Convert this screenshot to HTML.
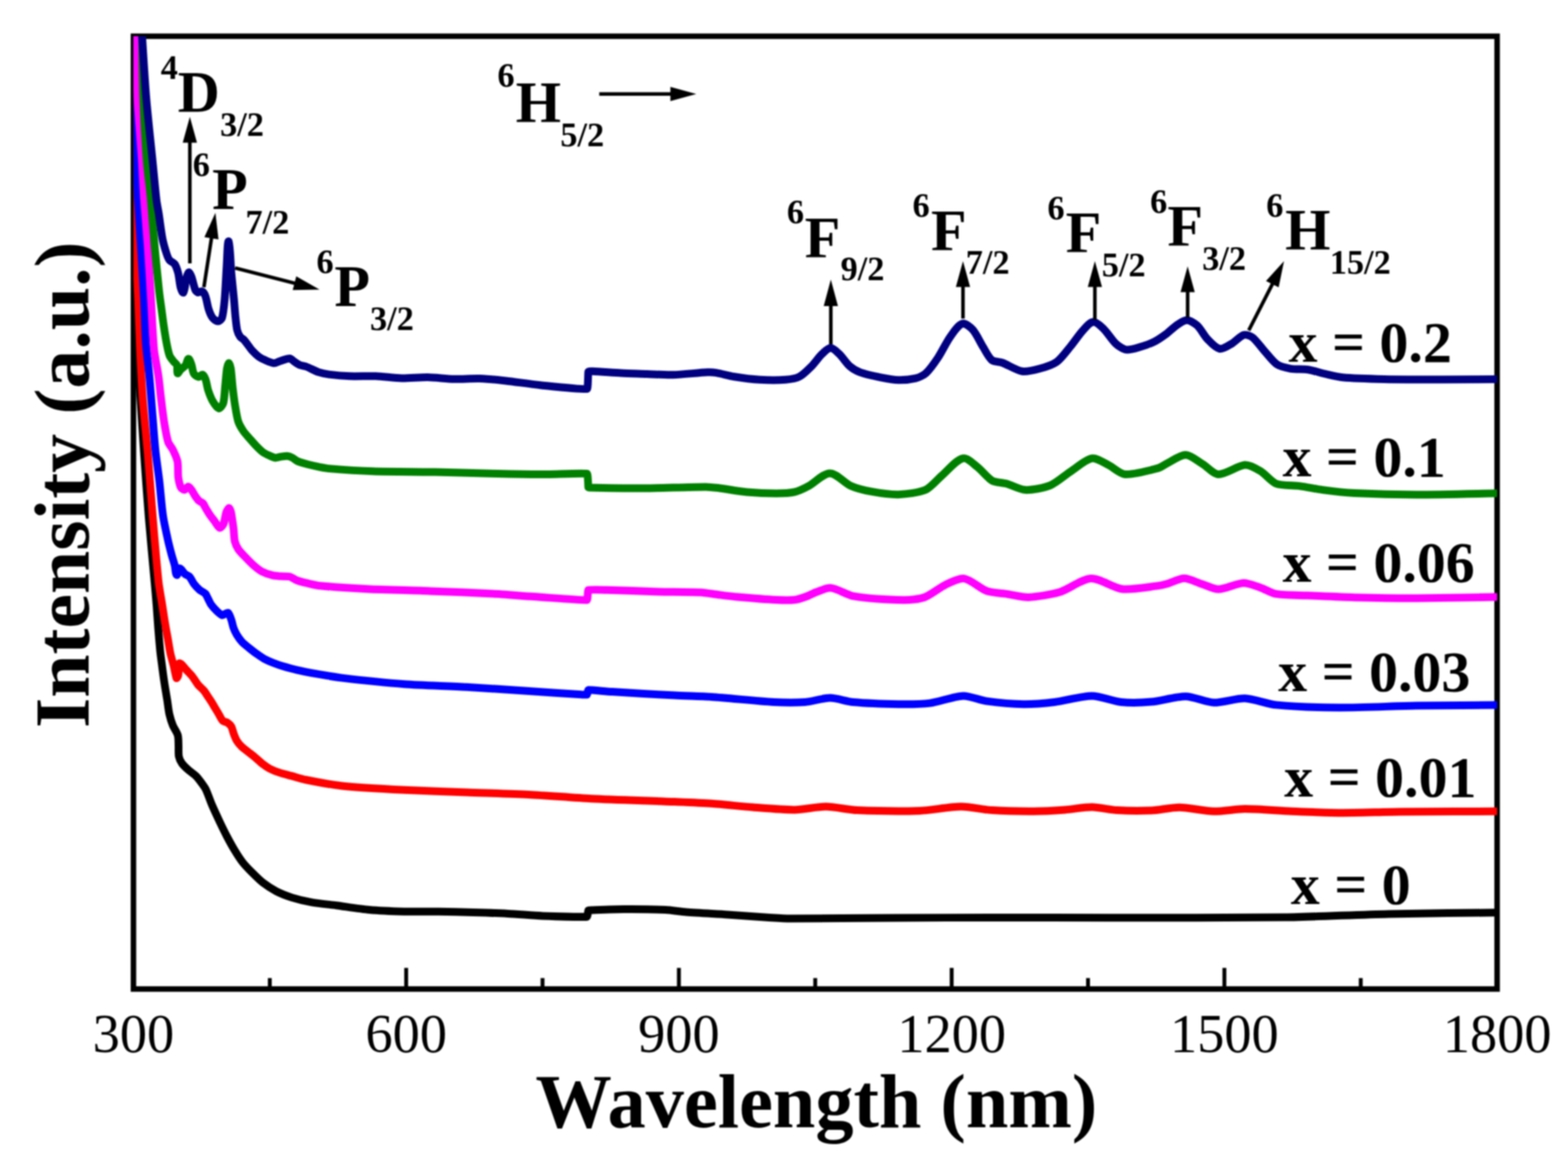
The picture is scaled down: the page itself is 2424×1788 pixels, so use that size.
<!DOCTYPE html>
<html><head><meta charset="utf-8"><title>Absorption spectra</title>
<style>html,body{margin:0;padding:0;background:#fff;}body{width:2424px;height:1788px;overflow:hidden;}svg{display:block;filter:blur(1.2px);}</style>
</head><body>
<svg width="2424" height="1788" viewBox="0 0 2424 1788" font-family="'Liberation Serif', 'Times New Roman', serif">
<defs><clipPath id="c"><rect x="206.3" y="56" width="2108.1" height="1472.4"/></clipPath></defs>
<rect width="100%" height="100%" fill="#fff"/>
<rect x="206.3" y="56.0" width="2108.1" height="1472.4" fill="none" stroke="#000" stroke-width="8.5"/>
<path d="M417.1 1528.4V1511.4M627.9 1528.4V1495.7M838.7 1528.4V1511.4M1049.5 1528.4V1495.7M1260.3 1528.4V1511.4M1471.2 1528.4V1495.7M1682.0 1528.4V1511.4M1892.8 1528.4V1495.7M2103.6 1528.4V1511.4" stroke="#000" stroke-width="6"/>
<g clip-path="url(#c)" fill="none" stroke-width="12" stroke-linejoin="round" stroke-linecap="round">
<path d="M205.5 40.0C205.6 44.3 206.0 51.7 206.0 56.0C206.2 107.7 206.1 198.3 206.5 250.0C206.7 276.7 207.5 323.3 208.0 350.0C208.5 376.7 209.3 423.3 210.0 450.0C210.6 474.0 211.9 516.0 213.0 540.0C213.9 561.3 216.2 598.7 217.5 620.0C218.9 642.7 221.4 682.3 223.0 705.0C224.8 730.3 227.9 774.7 230.0 800.0C232.2 826.7 236.6 873.3 239.0 900.0C239.8 909.3 241.3 925.7 242.0 935.0C242.7 944.3 243.8 960.7 244.5 970.0C245.2 979.3 246.6 995.7 247.5 1005.0C248.0 1010.3 249.3 1019.7 250.0 1025.0C251.0 1032.8 252.8 1046.6 254.0 1054.4C255.1 1061.7 257.3 1074.5 258.5 1081.8C259.4 1087.6 260.5 1097.9 261.8 1103.6C262.9 1108.3 265.4 1116.5 267.2 1121.0C268.9 1125.2 273.7 1131.9 274.9 1136.3C276.1 1140.5 275.8 1148.2 276.0 1152.6C276.2 1157.0 275.7 1164.7 276.5 1169.0C277.1 1172.1 279.5 1177.3 281.4 1179.9C283.8 1183.2 289.2 1188.1 292.3 1190.8C295.1 1193.3 300.6 1196.9 303.2 1199.5C305.8 1202.1 309.7 1207.4 311.9 1210.4C313.7 1212.9 316.9 1217.2 318.2 1220.0C321.2 1226.3 325.1 1237.8 327.8 1244.2C330.9 1251.4 336.7 1263.8 340.0 1270.8C342.8 1276.7 347.8 1286.9 350.8 1292.6C353.9 1298.5 359.5 1308.7 363.0 1314.4C366.0 1319.4 371.5 1328.0 375.1 1332.6C378.6 1337.1 385.6 1344.3 389.6 1348.3C394.0 1352.7 401.6 1360.3 406.5 1364.1C411.7 1368.1 421.3 1374.4 427.1 1377.4C433.3 1380.6 444.7 1385.0 451.3 1387.1C459.2 1389.6 473.4 1392.9 481.6 1394.3C491.8 1396.1 509.8 1397.9 520.0 1399.2C533.6 1401.0 557.4 1404.8 571.1 1406.0C585.4 1407.3 610.4 1408.3 624.7 1408.7C639.0 1409.1 663.9 1408.5 678.2 1408.7C692.5 1408.9 717.5 1409.6 731.8 1410.0C746.1 1410.4 771.1 1411.2 785.4 1411.9C799.7 1412.6 824.7 1414.8 839.0 1415.4C857.3 1416.1 903.0 1417.2 907.5 1416.7C908.2 1416.6 909.2 1407.6 909.5 1407.0C909.6 1406.8 912.0 1406.6 912.9 1406.6C926.6 1406.1 950.6 1405.1 964.3 1405.0C981.4 1404.9 1011.5 1405.2 1028.6 1406.0C1037.2 1406.4 1052.1 1408.8 1060.7 1409.5C1077.8 1410.8 1107.9 1412.3 1125.0 1413.4C1142.2 1414.5 1172.1 1416.9 1189.3 1418.0C1197.9 1418.5 1212.8 1419.5 1221.4 1419.5C1264.3 1419.6 1339.3 1418.7 1382.2 1418.5C1425.1 1418.3 1500.0 1417.9 1542.9 1417.9C1588.1 1417.9 1667.3 1418.2 1712.5 1418.2C1785.4 1418.2 1912.9 1418.6 1985.7 1417.6C2028.6 1417.0 2103.5 1413.3 2146.4 1412.4C2195.4 1411.3 2281.0 1410.8 2330.0 1410.2" stroke="#000000"/>
<path d="M205.5 40.0C205.6 44.3 206.0 51.7 206.0 56.0C206.4 107.7 206.4 198.3 207.0 250.0C207.4 284.7 208.4 345.3 209.5 380.0C210.2 401.3 212.6 438.7 213.5 460.0C214.4 481.3 215.5 518.7 216.5 540.0C217.5 561.3 219.4 598.7 221.0 620.0C222.7 642.7 226.9 682.3 228.8 705.0C230.9 730.3 234.1 774.7 236.2 800.0C238.4 826.7 242.4 873.4 245.2 900.0C246.1 908.1 248.7 922.0 250.0 930.0C251.5 939.3 253.9 955.7 255.5 965.0C256.6 971.7 258.8 983.3 260.0 990.0C260.9 995.3 262.3 1004.7 263.5 1010.0C264.6 1015.1 267.3 1023.9 268.5 1029.0C269.7 1034.0 271.7 1045.6 272.8 1048.0C273.1 1048.6 275.3 1045.3 275.5 1044.0C276.5 1039.0 276.5 1027.5 277.3 1025.1C277.5 1024.6 280.2 1026.2 281.0 1027.0C283.1 1029.0 286.2 1033.2 288.2 1035.4C290.6 1038.0 295.0 1042.3 297.2 1045.1C299.9 1048.5 303.6 1055.1 306.3 1058.4C308.5 1061.1 313.2 1064.9 315.4 1067.5C317.3 1069.7 319.9 1074.2 321.5 1076.6C323.1 1079.0 326.0 1083.2 327.5 1085.7C328.8 1087.8 330.9 1091.5 332.2 1093.6C333.9 1096.5 337.0 1101.6 338.7 1104.5C340.2 1107.0 342.3 1112.0 344.5 1114.0C346.0 1115.4 350.1 1115.7 351.8 1116.9C353.6 1118.1 356.5 1120.8 357.6 1122.7C359.1 1125.4 360.1 1130.7 361.2 1133.6C362.4 1136.8 364.5 1142.3 366.3 1145.2C367.9 1147.8 371.4 1151.8 373.6 1153.9C376.3 1156.5 381.6 1160.3 384.5 1162.6C387.4 1164.9 392.5 1168.9 395.4 1171.3C398.4 1173.8 403.2 1178.4 406.3 1180.8C409.0 1182.9 414.0 1186.4 417.1 1188.0C420.8 1189.9 427.7 1192.6 431.7 1193.9C436.5 1195.5 445.1 1197.6 450.0 1198.9C456.0 1200.5 466.3 1203.8 472.4 1205.0C487.3 1208.0 513.5 1212.9 528.6 1214.5C554.2 1217.2 599.3 1219.5 625.0 1220.8C650.7 1222.1 695.7 1223.7 721.4 1224.6C747.1 1225.5 792.2 1226.6 817.9 1227.9C843.6 1229.2 888.6 1233.0 914.3 1234.3C948.6 1236.0 1008.6 1237.7 1042.9 1239.1C1058.1 1239.7 1084.8 1240.7 1100.0 1241.8C1117.2 1243.0 1147.1 1246.3 1164.3 1247.6C1181.4 1248.9 1211.4 1251.6 1228.6 1251.4C1241.5 1251.3 1263.9 1246.5 1276.8 1246.6C1289.7 1246.7 1312.1 1251.5 1325.0 1252.1C1350.7 1253.2 1395.7 1253.9 1421.4 1253.0C1438.6 1252.4 1468.5 1246.7 1485.7 1246.6C1498.6 1246.5 1521.0 1251.3 1533.9 1252.1C1551.0 1253.2 1581.0 1253.8 1598.2 1253.7C1611.1 1253.6 1633.6 1252.3 1646.4 1251.4C1657.6 1250.6 1677.0 1247.2 1688.2 1247.3C1698.6 1247.4 1716.4 1251.5 1726.8 1252.1C1741.0 1252.9 1765.8 1253.1 1780.0 1252.5C1791.6 1252.0 1811.8 1247.5 1823.4 1247.7C1837.6 1247.9 1862.2 1253.5 1876.4 1253.8C1889.3 1254.1 1911.7 1250.1 1924.6 1250.1C1943.9 1250.1 1977.7 1253.0 1997.0 1253.8C2016.3 1254.6 2050.0 1256.1 2069.3 1256.2C2095.0 1256.3 2140.0 1254.7 2165.7 1254.5C2209.5 1254.1 2286.2 1254.0 2330.0 1253.8" stroke="#ff0000"/>
<path d="M204.0 40.0C204.3 44.3 204.9 51.7 205.0 56.0C205.7 81.1 206.3 124.9 207.0 150.0C207.8 176.7 209.5 223.3 210.5 250.0C211.1 264.7 212.2 290.3 213.0 305.0C214.1 325.0 216.6 360.0 217.8 380.0C219.1 401.3 221.5 438.7 222.6 460.0C223.6 478.7 224.2 511.4 225.5 530.0C226.4 543.4 229.6 566.6 230.8 580.0C232.3 596.1 234.4 624.4 235.7 640.5C236.9 655.0 238.7 680.5 240.2 695.0C241.5 707.8 244.8 730.2 246.3 743.0C248.0 757.4 249.9 782.6 252.0 796.9C253.4 806.7 257.2 823.6 259.3 833.2C260.7 839.7 263.6 851.0 265.3 857.4C266.5 861.9 269.1 869.5 270.2 874.0C271.2 877.8 271.2 887.3 273.3 888.5C274.9 889.4 275.7 878.4 277.5 878.2C279.6 878.0 283.5 885.1 286.0 887.2C287.7 888.6 291.7 889.8 293.2 891.5C295.5 894.0 297.8 899.7 299.9 902.4C301.9 905.0 305.9 909.3 308.4 911.5C310.6 913.4 315.5 915.4 317.5 917.5C319.1 919.2 320.6 923.3 321.7 925.4C323.0 927.8 324.9 932.3 326.5 934.5C328.6 937.5 333.0 942.2 335.6 944.7C337.5 946.5 341.5 950.5 343.5 950.8C345.4 951.1 350.8 946.0 352.5 947.0C354.8 948.3 356.8 955.8 358.0 959.1C359.0 961.9 359.9 967.2 360.9 970.0C362.0 973.0 364.3 978.1 366.0 980.9C367.9 984.0 371.5 989.2 374.0 991.8C376.6 994.6 381.9 998.8 384.9 1001.2C388.1 1003.8 393.8 1008.3 397.2 1010.7C400.0 1012.7 405.0 1016.2 408.1 1017.9C411.9 1019.9 418.7 1022.9 422.7 1024.5C426.5 1026.0 433.3 1028.4 437.2 1029.6C443.0 1031.3 453.1 1034.1 459.0 1035.4C466.7 1037.2 480.3 1039.8 488.1 1041.2C498.9 1043.1 517.7 1046.3 528.6 1047.6C554.3 1050.6 599.2 1055.3 625.0 1057.2C650.7 1059.1 695.7 1060.2 721.4 1061.7C747.1 1063.2 792.2 1066.4 817.9 1068.1C839.3 1069.5 876.8 1072.0 898.2 1073.3C900.7 1073.4 907.0 1073.8 907.5 1073.5C907.9 1073.2 909.0 1066.4 909.5 1066.3C912.0 1066.0 936.6 1068.5 946.4 1069.1C972.1 1070.7 1017.2 1073.3 1042.9 1074.6C1058.1 1075.4 1084.8 1076.0 1100.0 1077.0C1125.7 1078.7 1170.6 1083.6 1196.4 1085.0C1209.2 1085.7 1231.8 1085.9 1244.6 1085.0C1255.0 1084.2 1272.8 1078.6 1283.2 1078.6C1292.8 1078.6 1309.0 1084.1 1318.6 1085.0C1337.4 1086.7 1370.4 1087.9 1389.3 1088.2C1402.2 1088.4 1424.7 1088.2 1437.5 1086.6C1451.4 1084.8 1474.9 1075.9 1488.9 1075.4C1498.6 1075.0 1514.7 1082.1 1524.3 1083.4C1539.6 1085.5 1566.7 1088.0 1582.2 1088.2C1595.1 1088.4 1617.6 1086.5 1630.4 1085.0C1645.9 1083.1 1672.6 1075.4 1688.2 1075.4C1700.5 1075.4 1721.0 1083.8 1733.2 1085.0C1745.6 1086.2 1767.6 1085.7 1780.0 1084.6C1794.3 1083.3 1818.7 1076.0 1833.0 1076.2C1844.9 1076.3 1864.6 1085.4 1876.4 1085.8C1889.4 1086.2 1911.6 1078.8 1924.6 1079.3C1937.7 1079.8 1959.8 1088.1 1972.9 1089.4C1998.5 1091.9 2043.6 1093.4 2069.3 1093.5C2101.4 1093.7 2157.7 1091.1 2189.8 1090.6C2227.2 1090.0 2292.6 1089.7 2330.0 1089.4" stroke="#0000ff"/>
<path d="M209.5 40.0C209.6 44.3 209.9 51.7 210.0 56.0C210.7 81.1 211.3 125.0 212.5 150.0C213.8 176.7 217.8 223.3 219.5 250.0C220.4 264.7 221.5 290.3 222.5 305.0C223.9 325.0 227.0 360.0 228.4 380.0C229.9 401.3 232.0 438.7 233.3 460.0C234.6 481.3 236.1 518.7 238.1 540.0C239.1 550.8 243.3 569.3 244.8 580.0C246.2 589.6 247.8 606.6 249.0 616.3C250.2 626.0 252.2 643.0 253.8 652.6C255.1 660.7 257.4 675.0 259.9 682.9C261.0 686.5 265.6 691.6 267.2 695.0C269.5 699.7 273.4 708.1 274.4 713.2C275.7 719.5 274.8 731.0 275.6 737.4C276.2 741.7 277.7 749.4 279.6 753.3C280.4 754.9 283.8 757.1 285.1 757.0C286.6 756.8 289.6 752.1 291.1 752.1C292.5 752.1 294.9 755.5 296.0 757.0C297.7 759.2 299.8 763.7 301.4 766.0C302.9 768.2 305.6 772.1 307.5 773.9C308.9 775.2 312.3 776.1 313.5 777.5C315.3 779.4 317.1 783.8 318.4 786.0C320.0 788.6 322.7 793.2 324.4 795.7C326.2 798.4 329.7 802.8 331.7 805.4C333.8 808.2 337.5 815.1 339.6 815.7C341.0 816.1 344.7 811.7 345.6 809.6C347.5 805.0 348.3 796.2 349.9 791.5C350.6 789.5 353.3 785.0 354.1 785.0C354.8 785.0 356.7 789.6 357.1 791.5C358.5 798.1 360.1 810.0 361.0 816.7C361.7 822.0 361.8 831.4 363.0 836.6C363.8 840.0 366.4 845.7 368.3 848.6C370.5 852.0 375.5 857.0 378.3 859.9C381.7 863.5 387.8 869.9 391.6 873.2C394.9 876.1 401.0 881.1 404.9 883.2C409.1 885.4 417.0 888.1 421.6 889.2C425.1 890.1 431.3 890.3 434.9 890.6C438.4 890.9 444.8 890.3 448.2 891.2C451.1 892.0 455.4 895.5 458.2 896.6C462.5 898.2 470.3 900.2 474.8 901.2C480.1 902.4 489.5 904.7 495.0 905.2C514.6 907.1 549.0 909.3 568.6 910.2C594.3 911.4 639.3 912.4 665.0 913.4C690.7 914.4 735.7 916.2 761.4 917.6C778.6 918.5 808.5 921.0 825.7 922.1C847.5 923.5 902.1 927.9 907.5 927.2C908.5 927.1 908.6 912.3 909.5 911.8C911.2 910.9 930.5 911.6 938.2 911.8C959.6 912.3 997.2 913.9 1018.6 914.4C1035.7 914.8 1065.8 914.6 1082.9 915.5C1090.2 915.9 1102.8 918.1 1110.0 919.0C1118.0 920.0 1132.0 921.8 1140.0 922.5C1156.0 923.9 1184.0 926.2 1200.0 927.0C1207.5 927.4 1220.6 927.8 1228.0 927.0C1233.0 926.5 1241.4 923.7 1246.1 922.0C1250.5 920.5 1257.6 916.5 1262.0 915.0C1267.9 912.9 1278.4 907.9 1284.6 908.6C1294.6 909.7 1310.1 919.8 1320.0 921.4C1340.4 924.8 1376.6 926.9 1397.2 927.2C1405.8 927.3 1421.2 926.0 1429.3 923.0C1438.7 919.6 1452.4 908.1 1461.4 903.8C1468.8 900.3 1482.3 892.9 1490.4 894.1C1501.0 895.7 1515.6 909.8 1525.7 913.4C1533.9 916.3 1549.3 916.9 1557.9 918.2C1566.5 919.5 1581.4 923.3 1590.0 923.0C1603.0 922.5 1625.7 918.7 1638.2 915.0C1651.6 911.0 1672.4 894.8 1686.4 894.1C1700.0 893.4 1721.2 908.7 1734.7 910.2C1749.2 911.8 1774.8 907.1 1789.3 905.4C1793.3 904.9 1800.2 903.3 1804.1 902.2C1811.2 900.2 1823.2 893.8 1830.6 893.8C1838.0 893.8 1850.0 900.0 1857.1 902.2C1864.2 904.4 1876.3 910.7 1883.7 910.6C1894.3 910.4 1911.6 901.4 1922.2 901.0C1929.5 900.7 1941.8 905.9 1948.8 908.2C1955.4 910.4 1966.1 916.8 1972.9 917.9C1985.6 920.0 2008.2 919.7 2021.1 920.3C2040.4 921.1 2074.1 922.7 2093.4 923.2C2119.1 923.9 2164.1 924.7 2189.8 924.6C2227.2 924.4 2292.6 922.8 2330.0 922.2" stroke="#ff00ff"/>
<path d="M219.5 40.0C219.6 44.3 219.6 51.7 219.7 56.0C220.2 81.1 220.6 124.9 221.5 150.0C222.5 176.7 225.0 223.4 227.0 250.0C228.1 264.7 231.6 290.3 233.0 305.0C234.8 325.0 237.2 360.0 239.0 380.0C240.7 398.7 244.0 431.4 246.0 450.0C246.8 457.3 248.6 469.9 249.6 477.2C250.6 484.5 252.2 497.2 253.3 504.5C254.4 511.8 256.4 524.5 257.8 531.7C258.8 536.6 260.4 545.3 262.3 549.9C263.4 552.7 266.9 556.7 268.7 559.0C269.8 560.4 272.9 562.2 273.5 564.0C274.6 567.3 273.3 575.7 274.5 577.0C275.2 577.8 278.1 572.3 279.6 570.8C281.4 569.0 285.4 566.5 286.9 564.4C288.6 562.1 289.6 554.7 291.4 554.5C293.1 554.3 295.1 561.0 296.0 563.5C297.3 567.1 297.7 573.9 299.6 577.2C300.8 579.3 304.4 582.3 306.8 582.6C308.7 582.9 311.3 578.4 313.2 579.0C315.3 579.7 316.9 584.1 317.7 586.2C319.3 590.5 320.4 598.6 321.8 603.0C323.3 607.5 326.2 615.4 328.6 619.5C330.6 623.0 335.4 630.4 338.3 631.1C340.3 631.6 344.3 625.9 345.1 623.3C347.0 616.8 347.3 604.8 348.0 598.1C348.8 590.4 349.7 576.8 350.9 569.1C351.3 566.8 353.1 561.0 353.8 561.0C354.5 561.0 356.3 566.8 356.7 569.1C357.9 576.8 358.7 590.4 359.6 598.1C360.5 605.9 362.2 619.5 363.5 627.2C364.6 633.7 366.3 645.1 368.3 651.4C369.7 655.6 373.6 662.3 376.1 666.0C378.3 669.4 383.2 674.6 385.8 677.6C388.5 680.7 393.1 686.1 396.0 689.0C398.7 691.8 403.5 696.7 406.7 699.0C409.3 700.9 414.5 703.2 417.4 704.5C419.6 705.5 423.6 707.3 426.0 707.5C428.0 707.7 431.5 706.2 433.5 705.9C436.3 705.5 441.3 704.6 444.2 704.8C446.4 705.0 450.2 706.5 452.2 707.5C454.5 708.7 457.9 711.9 460.3 712.9C464.4 714.6 472.0 716.6 476.3 717.7C480.6 718.8 488.1 720.5 492.4 721.4C496.7 722.2 504.2 723.7 508.5 724.1C526.6 725.6 558.3 727.7 576.4 728.3C602.1 729.2 647.2 729.1 672.9 729.6C698.6 730.1 743.6 731.5 769.3 732.1C786.4 732.5 816.5 733.1 833.6 733.1C853.3 733.1 902.7 730.9 907.5 732.1C908.9 732.5 909.3 751.6 909.5 753.0C909.5 753.1 910.4 753.5 910.7 753.5C933.0 753.9 972.0 754.7 994.3 754.6C1020.0 754.4 1065.0 752.5 1090.7 752.4C1095.9 752.4 1104.9 753.4 1110.0 754.0C1122.0 755.5 1142.9 759.4 1155.0 760.5C1167.0 761.6 1188.0 762.5 1200.0 762.5C1207.5 762.5 1220.9 762.1 1228.2 760.4C1234.6 758.9 1244.9 753.8 1250.7 750.7C1259.5 746.0 1272.9 731.4 1282.9 731.4C1292.9 731.4 1305.9 746.7 1315.0 750.7C1323.1 754.3 1338.4 758.1 1347.1 759.7C1358.1 761.7 1377.7 764.5 1388.9 764.2C1400.2 763.8 1420.3 761.6 1430.7 757.1C1439.0 753.4 1449.4 740.5 1456.4 734.6C1464.9 727.5 1477.8 710.8 1488.6 708.3C1495.4 706.7 1505.5 717.6 1511.1 721.8C1517.6 726.8 1526.5 738.6 1533.6 742.7C1538.9 745.7 1550.2 745.8 1556.1 747.5C1563.9 749.7 1576.9 756.8 1585.0 757.1C1595.5 757.5 1613.9 754.1 1623.6 750.1C1633.2 746.2 1647.0 733.8 1655.7 728.2C1664.2 722.7 1677.9 710.0 1687.9 708.3C1695.2 707.1 1706.9 715.4 1713.6 718.6C1720.7 722.0 1731.5 732.5 1739.3 733.0C1753.2 733.9 1777.2 726.9 1790.7 723.4C1794.6 722.4 1800.4 718.0 1804.1 716.2C1811.7 712.5 1824.5 702.7 1833.0 702.9C1841.1 703.1 1852.7 713.3 1859.6 717.4C1866.2 721.3 1876.0 732.9 1883.7 733.0C1895.3 733.2 1913.1 719.5 1924.6 718.6C1931.5 718.1 1942.8 724.6 1948.8 728.2C1955.9 732.4 1965.2 744.6 1972.9 747.5C1981.9 750.9 1999.4 749.8 2009.0 751.1C2018.7 752.4 2035.5 755.8 2045.2 757.1C2058.0 758.8 2080.5 761.3 2093.4 762.0C2119.1 763.3 2164.1 764.4 2189.8 764.4C2227.2 764.4 2292.6 762.6 2330.0 762.0" stroke="#008000"/>
<path d="M218.5 40.0C218.8 44.3 219.4 51.7 219.7 56.0C221.4 81.1 223.9 125.0 226.0 150.0C228.2 176.7 233.3 223.3 236.0 250.0C237.6 266.0 240.1 294.0 242.0 310.0C242.6 315.4 244.6 324.7 245.4 330.0C247.1 340.7 249.3 359.4 251.4 370.0C252.6 376.0 255.6 386.2 257.5 392.0C258.4 394.8 260.2 399.7 262.0 402.0C263.6 404.1 268.5 405.8 270.0 408.0C272.2 411.2 274.3 417.8 275.3 421.5C276.9 427.7 277.7 438.9 279.4 445.0C280.0 447.1 282.4 453.8 283.5 452.0C286.4 447.3 286.2 437.0 287.6 431.7C288.4 428.7 290.0 421.8 291.7 421.0C292.9 420.4 295.2 425.6 295.9 427.6C297.9 433.0 299.8 442.9 302.0 448.2C302.6 449.6 304.6 451.7 306.1 452.0C307.8 452.3 310.8 449.6 312.3 450.3C314.4 451.3 316.7 455.3 317.5 457.5C319.5 462.8 320.8 472.7 322.6 478.0C323.8 481.7 326.4 488.3 328.8 491.4C330.4 493.4 334.4 496.6 337.0 496.6C339.2 496.6 342.6 493.5 343.2 491.4C345.4 484.0 346.6 470.3 347.3 462.6C348.5 448.9 349.5 424.9 350.4 411.2C351.1 401.0 351.7 370.4 353.5 373.0C355.8 376.3 356.4 408.6 357.6 421.5C358.6 432.5 360.7 451.6 361.7 462.6C362.4 469.9 363.2 482.7 364.0 490.0C364.6 495.3 365.4 504.8 366.6 510.0C367.3 513.0 369.5 518.1 371.3 520.6C372.5 522.3 375.9 523.8 377.3 525.3C379.1 527.2 381.7 531.1 383.3 533.2C385.1 535.5 388.0 539.8 390.0 541.9C392.5 544.6 397.1 549.0 400.0 551.2C402.4 553.0 407.2 555.4 410.0 556.6C413.4 558.1 419.5 561.0 423.2 561.2C426.0 561.4 430.5 558.7 433.2 557.9C437.1 556.7 443.8 553.8 447.9 553.9C450.0 554.0 452.7 557.3 454.5 558.5C456.8 560.0 460.7 562.8 463.2 563.9C465.7 565.0 470.6 565.5 473.2 566.5C478.5 568.5 487.2 573.3 492.5 575.1C496.7 576.5 504.2 578.0 508.6 578.6C517.1 579.7 532.1 581.0 540.7 581.3C551.4 581.7 570.2 580.9 580.9 581.3C591.6 581.7 610.3 584.3 621.1 584.5C631.8 584.7 650.6 582.9 661.3 583.1C672.0 583.3 690.7 585.5 701.4 585.8C712.1 586.1 730.9 584.6 741.6 585.0C752.4 585.4 771.1 587.3 781.8 588.5C796.1 590.1 821.1 593.8 835.4 595.2C854.6 597.1 902.9 602.3 907.5 601.0C909.2 600.5 909.0 576.2 909.5 574.5C909.6 574.1 914.1 573.7 915.8 573.8C927.6 574.3 948.2 576.0 960.0 576.6C970.7 577.1 989.5 577.6 1000.2 578.0C1010.9 578.4 1029.7 579.6 1040.4 579.3C1054.7 578.9 1079.6 576.0 1093.9 575.3C1097.5 575.1 1103.8 575.5 1107.3 576.1C1114.5 577.3 1126.9 580.8 1134.1 582.0C1144.8 583.7 1163.5 586.2 1174.3 586.8C1185.0 587.4 1203.8 587.6 1214.5 586.8C1220.3 586.3 1230.7 584.7 1235.9 582.0C1241.8 579.0 1250.0 570.6 1254.7 565.9C1259.3 561.3 1266.0 551.7 1270.7 547.2C1273.9 544.2 1279.7 537.8 1284.1 537.8C1288.5 537.8 1294.3 544.2 1297.5 547.2C1302.3 551.7 1308.6 561.6 1313.6 565.9C1317.3 569.2 1325.0 573.6 1329.7 575.3C1338.0 578.3 1353.2 581.5 1361.8 583.3C1368.9 584.7 1381.4 587.1 1388.6 587.3C1395.8 587.5 1408.4 586.4 1415.4 584.7C1420.1 583.5 1428.0 579.9 1431.5 576.6C1437.5 571.1 1445.7 559.3 1450.2 552.5C1455.7 544.2 1463.2 528.5 1469.0 520.4C1473.3 514.5 1480.7 502.5 1487.7 500.3C1492.4 498.8 1500.5 505.9 1503.8 509.6C1509.3 515.8 1515.5 529.3 1519.9 536.4C1523.3 541.9 1528.3 552.4 1533.3 556.5C1536.7 559.3 1545.2 559.0 1549.3 560.5C1557.7 563.6 1571.3 572.4 1580.2 573.8C1587.3 574.9 1600.0 571.7 1607.0 569.8C1614.4 567.8 1627.6 563.6 1633.8 559.1C1640.8 554.1 1649.7 541.6 1655.2 535.0C1660.4 528.7 1668.4 516.9 1673.9 510.9C1677.7 506.8 1684.4 498.0 1690.0 497.5C1695.1 497.1 1702.4 504.6 1706.1 508.2C1711.8 513.7 1719.0 525.7 1724.8 531.0C1728.4 534.4 1736.0 539.7 1740.9 540.4C1746.7 541.2 1756.7 537.9 1762.3 536.3C1768.2 534.6 1778.3 531.0 1783.8 528.3C1789.1 525.7 1797.7 519.8 1802.5 516.3C1807.0 513.0 1814.0 506.0 1818.6 502.9C1822.6 500.2 1829.9 494.8 1834.7 494.8C1839.5 494.8 1847.2 499.7 1850.7 502.9C1856.0 507.7 1861.8 519.2 1866.8 524.3C1871.2 528.9 1879.3 537.9 1885.6 539.0C1890.9 540.0 1899.6 533.7 1904.3 531.0C1909.6 527.9 1917.2 519.3 1923.1 517.6C1926.7 516.6 1933.6 519.3 1936.5 521.6C1942.4 526.3 1950.1 537.4 1955.2 543.0C1960.1 548.4 1967.9 559.0 1974.0 563.1C1979.0 566.4 1989.5 568.8 1995.4 569.8C2002.5 571.0 2015.1 570.1 2022.2 571.2C2029.5 572.3 2041.8 576.3 2049.0 577.9C2056.1 579.5 2068.5 582.6 2075.8 583.2C2092.9 584.7 2122.9 585.5 2140.0 585.9C2164.0 586.4 2206.0 586.5 2230.0 586.5C2256.7 586.5 2303.3 586.1 2330.0 586.0" stroke="#000080"/>
</g>
<text x="206.3" y="1625.8" font-size="84" text-anchor="middle">300</text>
<text x="627.9" y="1625.8" font-size="84" text-anchor="middle">600</text>
<text x="1049.5" y="1625.8" font-size="84" text-anchor="middle">900</text>
<text x="1471.2" y="1625.8" font-size="84" text-anchor="middle">1200</text>
<text x="1892.8" y="1625.8" font-size="84" text-anchor="middle">1500</text>
<text x="2314.4" y="1625.8" font-size="84" text-anchor="middle">1800</text>
<text x="827.8" y="1741.5" font-size="118" font-weight="bold">Wavelength (nm)</text>
<text transform="translate(137.0 1125.1) rotate(-90)" font-size="120.3" font-weight="bold">Intensity (a.u.)</text>
<text x="1992.1" y="559.4" font-size="89.5" font-weight="bold">x = 0.2</text>
<text x="1982.7" y="736.0" font-size="89.5" font-weight="bold">x = 0.1</text>
<text x="1982.7" y="899.2" font-size="89.5" font-weight="bold">x = 0.06</text>
<text x="1976.0" y="1067.7" font-size="89.5" font-weight="bold">x = 0.03</text>
<text x="1985.3" y="1230.9" font-size="89.5" font-weight="bold">x = 0.01</text>
<text x="1995.5" y="1396.9" font-size="89.5" font-weight="bold">x = 0</text>
<text x="248.5" y="122.1" font-size="53.0" font-weight="bold">4</text>
<text x="274.8" y="173.4" font-size="90.0" font-weight="bold">D</text>
<text x="340.2" y="210.2" font-size="53.0" font-weight="bold">3/2</text>
<text x="298.1" y="271.5" font-size="53.0" font-weight="bold">6</text>
<text x="327.9" y="323.4" font-size="90.0" font-weight="bold">P</text>
<text x="379.5" y="360.5" font-size="53.0" font-weight="bold">7/2</text>
<text x="489.2" y="422.0" font-size="53.0" font-weight="bold">6</text>
<text x="516.9" y="472.7" font-size="90.0" font-weight="bold">P</text>
<text x="572.0" y="509.7" font-size="53.0" font-weight="bold">3/2</text>
<text x="768.9" y="134.3" font-size="53.0" font-weight="bold">6</text>
<text x="797.3" y="189.0" font-size="90.0" font-weight="bold">H</text>
<text x="866.3" y="225.5" font-size="53.0" font-weight="bold">5/2</text>
<text x="1216.4" y="344.8" font-size="53.0" font-weight="bold">6</text>
<text x="1244.0" y="397.9" font-size="90.0" font-weight="bold">F</text>
<text x="1299.5" y="432.8" font-size="53.0" font-weight="bold">9/2</text>
<text x="1410.7" y="334.8" font-size="53.0" font-weight="bold">6</text>
<text x="1439.2" y="387.0" font-size="90.0" font-weight="bold">F</text>
<text x="1493.0" y="422.8" font-size="53.0" font-weight="bold">7/2</text>
<text x="1619.2" y="338.5" font-size="53.0" font-weight="bold">6</text>
<text x="1647.6" y="389.8" font-size="90.0" font-weight="bold">F</text>
<text x="1703.3" y="426.5" font-size="53.0" font-weight="bold">5/2</text>
<text x="1778.0" y="328.5" font-size="53.0" font-weight="bold">6</text>
<text x="1804.7" y="379.8" font-size="90.0" font-weight="bold">F</text>
<text x="1858.6" y="417.4" font-size="53.0" font-weight="bold">3/2</text>
<text x="1957.4" y="334.8" font-size="53.0" font-weight="bold">6</text>
<text x="1986.7" y="386.1" font-size="90.0" font-weight="bold">H</text>
<text x="2055.8" y="422.8" font-size="53.0" font-weight="bold">15/2</text>
<line x1="293.5" y1="407.0" x2="293.5" y2="218.6" stroke="#000" stroke-width="5.5"/><polygon points="293.5,180.6 304.5,220.6 282.5,220.6" fill="#000"/>
<line x1="315.2" y1="443.8" x2="327.2" y2="366.4" stroke="#000" stroke-width="5.5"/><polygon points="333.0,328.8 337.8,370.0 316.0,366.6" fill="#000"/>
<line x1="363.4" y1="414.2" x2="457.2" y2="438.2" stroke="#000" stroke-width="5.5"/><polygon points="494.0,447.6 452.5,448.3 458.0,427.0" fill="#000"/>
<line x1="926.4" y1="145.2" x2="1038.4" y2="145.2" stroke="#000" stroke-width="5.5"/><polygon points="1076.4,145.2 1036.4,156.2 1036.4,134.2" fill="#000"/>
<line x1="1284.4" y1="532.0" x2="1284.4" y2="471.0" stroke="#000" stroke-width="5.5"/><polygon points="1284.4,432.0 1295.4,473.0 1273.4,473.0" fill="#000"/>
<line x1="1488.7" y1="492.4" x2="1488.7" y2="441.5" stroke="#000" stroke-width="5.5"/><polygon points="1488.7,403.5 1499.7,443.5 1477.7,443.5" fill="#000"/>
<line x1="1692.6" y1="494.0" x2="1692.6" y2="441.5" stroke="#000" stroke-width="5.5"/><polygon points="1692.6,403.5 1703.6,443.5 1681.6,443.5" fill="#000"/>
<line x1="1836.0" y1="490.6" x2="1836.0" y2="449.6" stroke="#000" stroke-width="5.5"/><polygon points="1836.0,411.6 1847.0,451.6 1825.0,451.6" fill="#000"/>
<line x1="1930.5" y1="510.6" x2="1967.8" y2="437.4" stroke="#000" stroke-width="5.5"/><polygon points="1985.0,403.5 1976.7,444.1 1957.1,434.2" fill="#000"/>
</svg>
</body></html>
